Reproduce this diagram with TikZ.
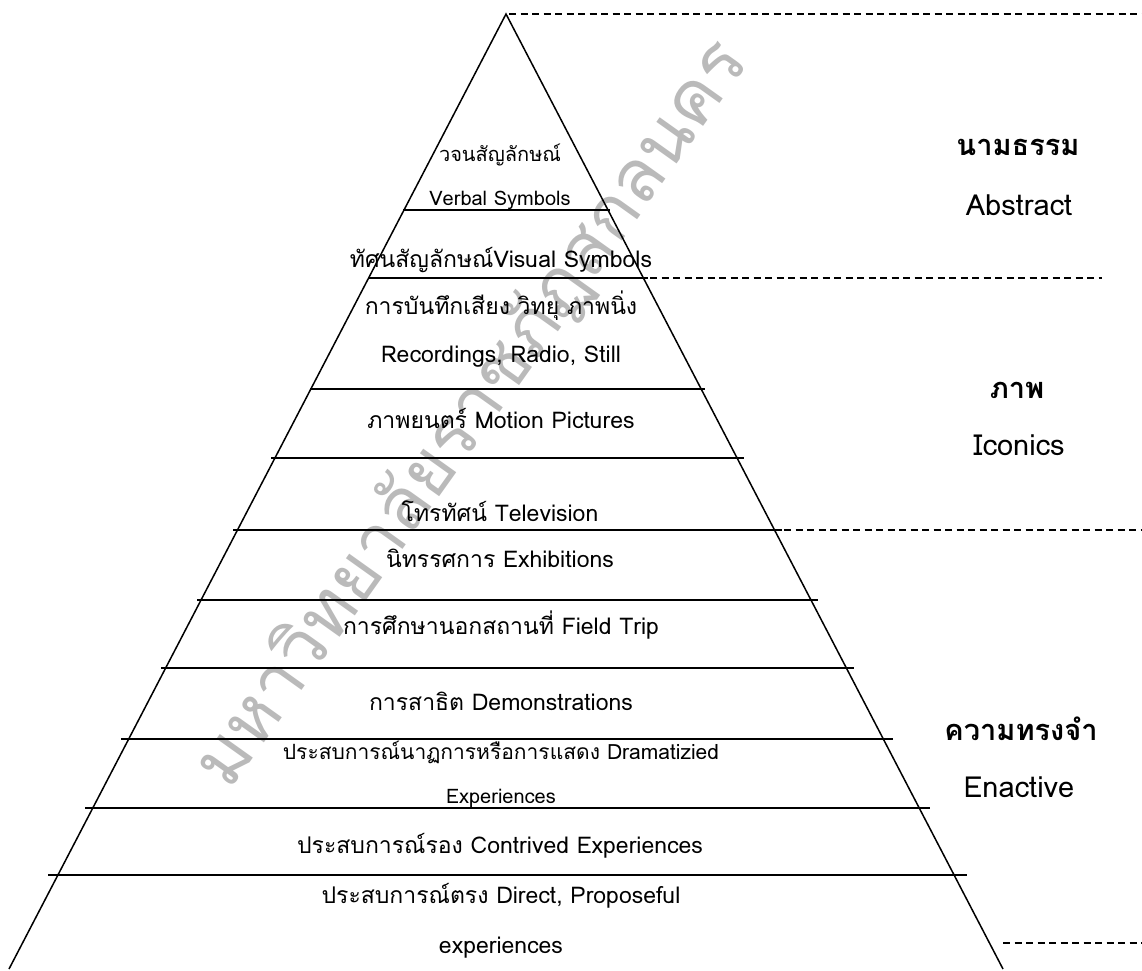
\documentclass[tikz,border=0pt]{standalone}
\usepackage{fontspec}
\setmainfont[Script=Thai]{Loma}
\tikzset{
  edge/.style={line width=1.5pt, line join=miter},
  layer/.style={line width=1.6pt},
  sep/.style={line width=1.6pt, dash pattern=on 7pt off 4.5pt},
  txt/.style={inner sep=0pt, text height=0.75em, text depth=0.25em, yshift=-5.5pt},
  lbl/.style={txt, font=\fontsize{23}{26}\selectfont},
  sml/.style={txt, font=\fontsize{20}{23}\selectfont},
  smlw/.style={txt, font=\fontsize{21}{24}\selectfont},
  side/.style={txt, font=\fontsize{29}{32}\selectfont\bfseries},
  sidel/.style={txt, font=\fontsize{29}{32}\selectfont},
  watermark/.style={inner sep=0pt, text=black!27, font=\fontsize{73}{76}\selectfont},
}
\begin{document}
\begin{tikzpicture}[x=1pt,y=-1pt]
\useasboundingbox (0,0) rectangle (1142,970);
% watermark
\node[watermark, rotate=54.5] (wm) at (472,414) {มหาวิทยาลัยราชภัฏสกลนคร};
% pyramid
\coordinate (apex) at (506,14);
\coordinate (bl) at (9,969);
\coordinate (br) at (1003,969);
\draw[edge] (bl) -- (apex) -- (br);
\foreach \y/\a/\b in {210/403/610, 278/368/648, 389/310/705, 458/271/744,
  530/233/782, 600/197/818, 668/161/854, 739/121/893, 808/85/930, 875/48/967}
  \draw[layer] (\a,\y) -- (\b,\y);
% dashed separators
\draw[sep] (509,14) -- (1142,14);
\draw[sep] (650,278) -- (1102,278);
\draw[sep] (784,530) -- (1142,530);
\draw[sep] (1003,943) -- (1142,943);
% layer texts
\node[sml] (t1a) at (500,153) {วจนสัญลักษณ์};
\node[sml] (t1b) at (500,197) {Verbal Symbols};
\node[lbl] (t2) at (501,259) {ทัศนสัญลักษณ์Visual Symbols};
\node[lbl] (t3a) at (501,306) {การบันทึกเสียง วิทยุ ภาพนิ่ง};
\node[lbl] (t3b) at (501,354) {Recordings, Radio, Still};
\node[lbl] (t4) at (501,420) {ภาพยนตร์ Motion Pictures};
\node[lbl] (t5) at (500,513) {โทรทัศน์ Television};
\node[lbl] (t6) at (500,559) {นิทรรศการ Exhibitions};
\node[lbl] (t7) at (501,626) {การศึกษานอกสถานที่ Field Trip};
\node[lbl] (t8) at (501,702) {การสาธิต Demonstrations};
\node[smlw] (t9a) at (501,751) {ประสบการณ์นาฏการหรือการแสดง Dramatizied};
\node[sml] (t9b) at (501,795) {Experiences};
\node[lbl] (t10) at (500,845) {ประสบการณ์รอง Contrived Experiences};
\node[lbl] (t11a) at (501,895) {ประสบการณ์ตรง Direct, Proposeful};
\node[lbl] (t11b) at (501,945) {experiences};
% side labels
\node[side] (abs1) at (1018,147) {นามธรรม};
\node[sidel] (abs2) at (1019,207) {Abstract};
\node[side] (ico1) at (1017,390) {ภาพ};
\node[sidel] (ico2) at (1019,447) {Iconics};
\node[side] (ena1) at (1021,732) {ความทรงจำ};
\node[sidel] (ena2) at (1019,789) {Enactive};
\end{tikzpicture}
\end{document}
